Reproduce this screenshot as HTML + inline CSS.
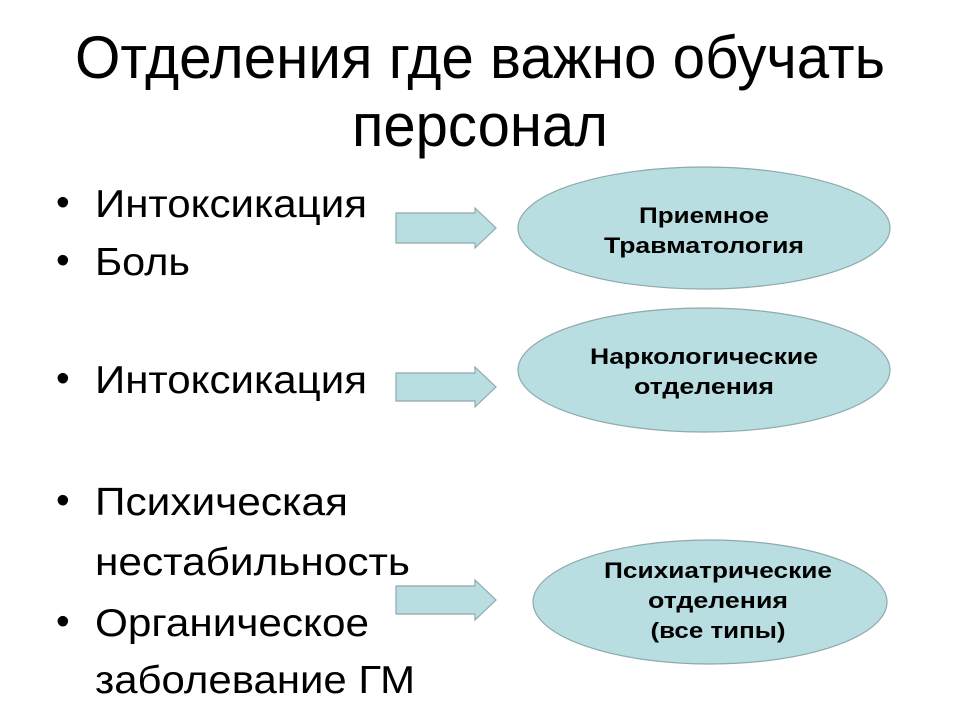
<!DOCTYPE html>
<html><head><meta charset="utf-8"><style>
html,body{margin:0;padding:0;background:#fff;}
svg{display:block;}
text{font-family:"Liberation Sans",Arial,sans-serif;fill:#000;}
</style></head><body>
<svg width="960" height="720" viewBox="0 0 960 720" xmlns="http://www.w3.org/2000/svg">
<text x="480" y="78" font-size="60" text-anchor="middle" textLength="810" lengthAdjust="spacingAndGlyphs">Отделения где важно обучать</text>
<text x="480" y="146" font-size="60" text-anchor="middle" textLength="256" lengthAdjust="spacingAndGlyphs">персонал</text>

<g font-size="39">
<text x="56" y="215">•</text><text x="95" y="217" textLength="272" lengthAdjust="spacingAndGlyphs">Интоксикация</text>
<text x="56" y="273">•</text><text x="95" y="275" textLength="95" lengthAdjust="spacingAndGlyphs">Боль</text>
<text x="56" y="391">•</text><text x="95" y="393" textLength="272" lengthAdjust="spacingAndGlyphs">Интоксикация</text>
<text x="56" y="513">•</text><text x="95" y="515" textLength="253" lengthAdjust="spacingAndGlyphs">Психическая</text>
<text x="95" y="575" textLength="315" lengthAdjust="spacingAndGlyphs">нестабильность</text>
<text x="56" y="634">•</text><text x="95" y="636" textLength="274" lengthAdjust="spacingAndGlyphs">Органическое</text>
<text x="95" y="693" textLength="320" lengthAdjust="spacingAndGlyphs">заболевание ГМ</text>
</g>

<g fill="#b9dee1" stroke="#8fa9ac" stroke-width="1.2">
<polygon points="396,213 475,213 475,208 496,228 475,248 475,243 396,243"/>
<polygon points="396,373 475,373 475,367 496,387 475,407 475,401 396,401"/>
<polygon points="396,586 475,586 475,580 496,600 475,620 475,614 396,614"/>
<ellipse cx="704" cy="228" rx="186" ry="61"/>
<ellipse cx="704" cy="370" rx="186" ry="62"/>
<ellipse cx="710" cy="602" rx="177" ry="62"/>
</g>

<g font-size="22" font-weight="bold" text-anchor="middle">
<text x="704" y="223" textLength="130" lengthAdjust="spacingAndGlyphs">Приемное</text>
<text x="704" y="253" textLength="200" lengthAdjust="spacingAndGlyphs">Травматология</text>
<text x="704" y="364" textLength="228" lengthAdjust="spacingAndGlyphs">Наркологические</text>
<text x="704" y="394" textLength="140" lengthAdjust="spacingAndGlyphs">отделения</text>
<text x="718" y="578" textLength="228" lengthAdjust="spacingAndGlyphs">Психиатрические</text>
<text x="718" y="608" textLength="140" lengthAdjust="spacingAndGlyphs">отделения</text>
<text x="718" y="638" textLength="135" lengthAdjust="spacingAndGlyphs">(все типы)</text>
</g>
</svg>
</body></html>
